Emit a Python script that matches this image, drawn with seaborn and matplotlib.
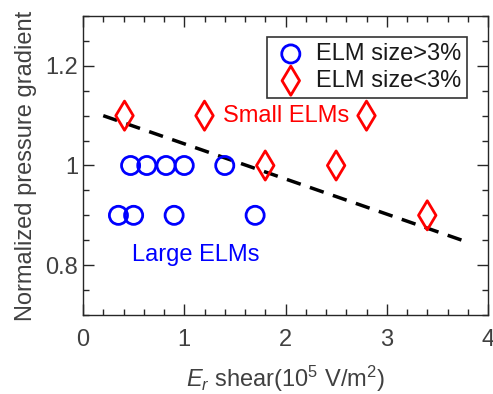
import matplotlib
matplotlib.use("Agg")
import matplotlib.pyplot as plt
import seaborn as sns
import pandas as pd
from matplotlib.ticker import MultipleLocator, FuncFormatter

large_x = [0.35, 0.5, 0.9, 1.7, 0.47, 0.63, 0.82, 1.0, 1.4]
large_y = [0.9, 0.9, 0.9, 0.9, 1.0, 1.0, 1.0, 1.0, 1.0]
small_x = [0.41, 1.2, 2.8, 1.8, 2.5, 3.4]
small_y = [1.1, 1.1, 1.1, 1.0, 1.0, 0.9]
fit_x = [0.2, 3.8]
fit_y = [1.10, 0.846]

sns.set_style("ticks")
plt.rcParams['font.family'] = ['Liberation Sans', 'DejaVu Sans']
plt.rcParams['mathtext.fontset'] = 'custom'
plt.rcParams['mathtext.rm'] = 'Liberation Sans'
plt.rcParams['mathtext.it'] = 'Liberation Sans:italic'

fig = plt.figure(figsize=(4.93, 3.94), dpi=100)
ax = fig.add_axes([83/493, 1 - 315/394, 405/493, 299/394])

df_l = pd.DataFrame({"x": large_x, "y": large_y})
df_s = pd.DataFrame({"x": small_x, "y": small_y})

sns.lineplot(x=fit_x, y=fit_y, ax=ax, color='black', lw=2.5, linestyle=(0, (4.2, 2.8)))
sns.scatterplot(data=df_l, x="x", y="y", ax=ax, marker='o', s=170, facecolors='none',
                edgecolor='#0000ff', linewidth=2, label='ELM size>3%', zorder=3)
sns.scatterplot(data=df_s, x="x", y="y", ax=ax, marker='d', s=220, facecolors='none',
                edgecolor='#ff0000', linewidth=2, label='ELM size<3%', zorder=3)

fmt = FuncFormatter(lambda v, p: ('%g' % round(v, 3)))
ax.set_xlim(0, 4)
ax.set_ylim(0.7, 1.3)
ax.xaxis.set_major_locator(MultipleLocator(1))
ax.xaxis.set_minor_locator(MultipleLocator(0.2))
ax.yaxis.set_major_locator(MultipleLocator(0.2))
ax.yaxis.set_minor_locator(MultipleLocator(0.05))
ax.xaxis.set_major_formatter(fmt)
ax.yaxis.set_major_formatter(fmt)
ax.tick_params(which='both', direction='in', top=True, right=True, bottom=True, left=True,
               colors='#262626', labelcolor='#404040', labelsize=17)
ax.tick_params(which='major', length=8, width=1)
ax.tick_params(which='minor', length=4, width=1)
ax.tick_params(axis='x', pad=10)
for s in ax.spines.values():
    s.set_color('#262626')
    s.set_linewidth(1)

ax.set_xlabel(r'$E_r$ shear(10$^5$ V/m$^2$)', fontsize=17, color='#404040', labelpad=9)
ax.set_ylabel('Normalized pressure gradient', fontsize=17, color='#404040', labelpad=6)

ax.text(1.38, 1.10, 'Small ELMs', color='#ff0000', fontsize=17, va='center', ha='left')
ax.text(0.48, 0.82, 'Large ELMs', color='#0000ff', fontsize=17, va='center', ha='left')

leg = ax.legend(loc='upper right', fontsize=17, frameon=True, fancybox=False,
                edgecolor='black', handletextpad=0.3, borderpad=0.25,
                borderaxespad=0.9, labelspacing=0.2, handlelength=1.5)
leg.get_frame().set_linewidth(1.2)
for t in leg.get_texts():
    t.set_color('#1a1a1a')
hs = leg.legend_handles
hs[0].set_sizes([170])
hs[1].set_sizes([220])

fig.savefig('out.png', dpi=100)
